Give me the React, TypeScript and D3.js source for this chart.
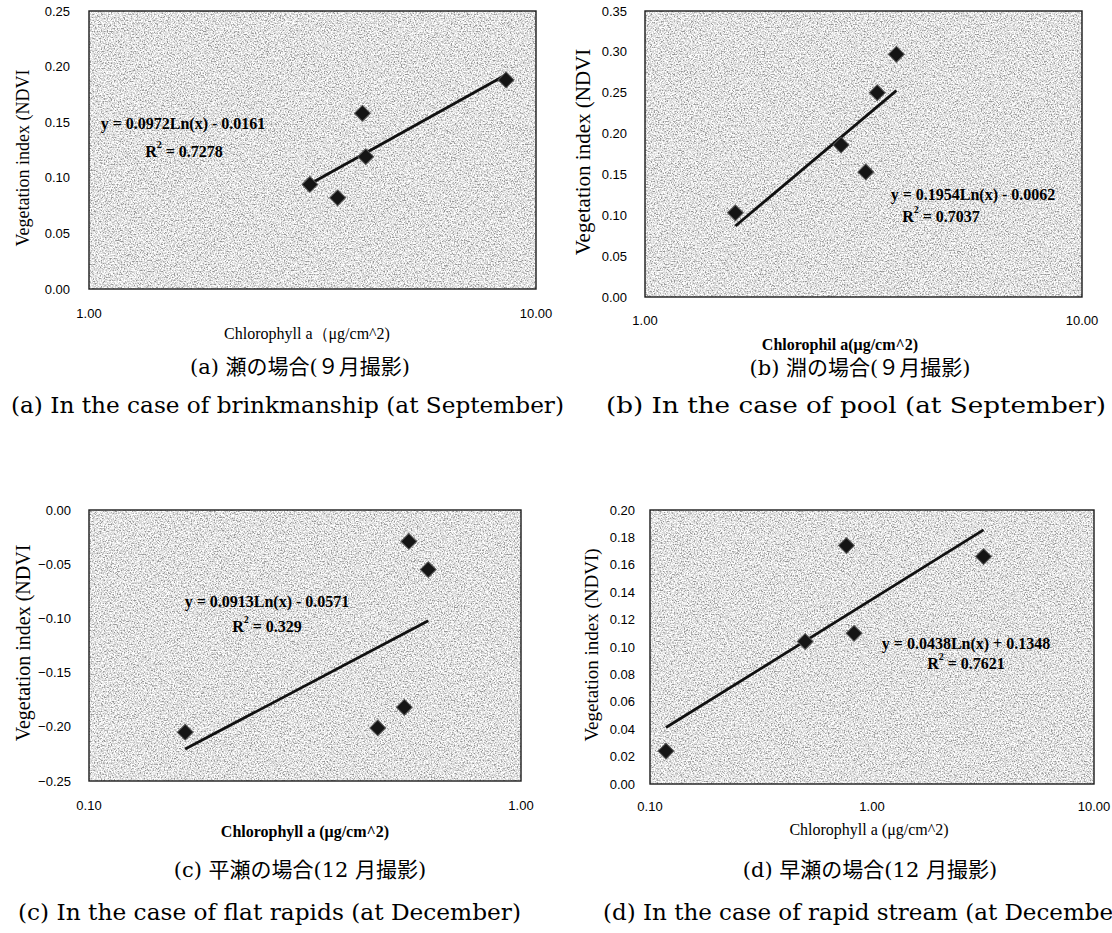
import React, { useEffect, useRef } from "react";
import * as d3 from "d3";

// (a) riffle, September
const chlA = [3.12, 3.6, 4.09, 4.16, 8.57];
const ndviA = [0.094, 0.082, 0.158, 0.119, 0.188];
const fitA = [0.0972, -0.0161];
const eqA = "y = 0.0972Ln(x) - 0.0161";
const r2A = "0.7278";

// (b) pool, September
const chlB = [1.61, 2.81, 3.2, 3.4, 3.76];
const ndviB = [0.103, 0.186, 0.153, 0.25, 0.297];
const fitB = [0.1954, -0.0062];
const eqB = "y = 0.1954Ln(x) - 0.0062";
const r2B = "0.7037";

// (c) flat rapids, December
const chlC = [0.167, 0.466, 0.537, 0.55, 0.61];
const ndviC = [-0.205, -0.201, -0.182, -0.029, -0.055];
const fitC = [0.0913, -0.0571];
const eqC = "y = 0.0913Ln(x) - 0.0571";
const r2C = "0.329";

// (d) rapid stream, December
const chlD = [0.118, 0.5, 0.767, 0.83, 3.18];
const ndviD = [0.024, 0.104, 0.174, 0.11, 0.166];
const fitD = [0.0438, 0.1348];
const eqD = "y = 0.0438Ln(x) + 0.1348";
const r2D = "0.7621";

// axis ticks
const xTicksA = [1, 10];
const xTicksB = [1, 10];
const xTicksC = [0.1, 1];
const xTicksD = [0.1, 1, 10];
const yTicksA = [0, 0.05, 0.1, 0.15, 0.2, 0.25];
const yTicksB = [0, 0.05, 0.1, 0.15, 0.2, 0.25, 0.3, 0.35];
const yTicksC = [-0.25, -0.2, -0.15, -0.1, -0.05, 0];
const yTicksD = [0, 0.02, 0.04, 0.06, 0.08, 0.1, 0.12, 0.14, 0.16, 0.18, 0.2];

// titles
const yTitles = ["Vegetation index (NDVI", "Vegetation index (NDVI", "Vegetation index (NDVI", "Vegetation index (NDVI)"];
const xTitles = ["Chlorophyll a（μg/cm^2)", "Chlorophil a(μg/cm^2)", "Chlorophyll a (μg/cm^2)", "Chlorophyll a (μg/cm^2)"];
const jpCaptions = ["(a) 瀬の場合(９月撮影)", "(b) 淵の場合(９月撮影)", "(c) 平瀬の場合(12 月撮影)", "(d) 早瀬の場合(12 月撮影)"];
const enCaptions = [
  "(a) In the case of brinkmanship (at September)",
  "(b) In the case of pool (at September)",
  "(c) In the case of flat rapids (at December)",
  "(d) In the case of rapid stream (at December)",
];

// layout of each panel on the page
const layouts = [
  { left: 89, right: 536, top: 11, bottom: 289, yLabX: 23, yLabY: 158, yLabSize: 18, yTickRight: 70, xTickY: 313, xTitleX: 307, xTitleY: 333, xTitleBold: false, eqX: 183, eqY: 123, r2X: 184, r2Y: 151 },
  { left: 645, right: 1082, top: 11, bottom: 297, yLabX: 583, yLabY: 152, yLabSize: 21, yTickRight: 627, xTickY: 320, xTitleX: 840, xTitleY: 344, xTitleBold: true, eqX: 973, eqY: 194, r2X: 941, r2Y: 216 },
  { left: 89, right: 521, top: 510, bottom: 781, yLabX: 23, yLabY: 643, yLabSize: 20, yTickRight: 71, xTickY: 805, xTitleX: 305, xTitleY: 831, xTitleBold: true, eqX: 267, eqY: 601, r2X: 267, r2Y: 626 },
  { left: 650, right: 1094, top: 510, bottom: 784, yLabX: 591, yLabY: 645, yLabSize: 19, yTickRight: 635, xTickY: 806, xTitleX: 869, xTitleY: 829, xTitleBold: false, eqX: 966, eqY: 643, r2X: 966, r2Y: 663 },
];
const captionPos = [
  { jpX: 300, jpY: 367, enX: 11, enY: 405, enLen: 553 },
  { jpX: 860, jpY: 368, enX: 606, enY: 405, enLen: 500 },
  { jpX: 300, jpY: 870, enX: 18, enY: 912, enLen: 503 },
  { jpX: 870, jpY: 870, enX: 603, enY: 912, enLen: 530 },
];

const panels = [
  { chl: chlA, ndvi: ndviA, fit: fitA, eq: eqA, r2: r2A, xTicks: xTicksA, yTicks: yTicksA },
  { chl: chlB, ndvi: ndviB, fit: fitB, eq: eqB, r2: r2B, xTicks: xTicksB, yTicks: yTicksB },
  { chl: chlC, ndvi: ndviC, fit: fitC, eq: eqC, r2: r2C, xTicks: xTicksC, yTicks: yTicksC },
  { chl: chlD, ndvi: ndviD, fit: fitD, eq: eqD, r2: r2D, xTicks: xTicksD, yTicks: yTicksD },
];

const SANS = "'Liberation Sans', Arial, sans-serif";
const SERIF = "'Liberation Serif', 'Times New Roman', serif";
const CAPTION = "'DejaVu Serif', 'Noto Sans CJK JP', serif";

const App = () => {
  const svgRef = useRef<SVGSVGElement>(null);

  useEffect(() => {
    const svg = d3.select(svgRef.current);
    svg.selectAll("*").remove();

    svg.append("rect").attr("width", 1112).attr("height", 933).attr("fill", "#ffffff");

    // speckled grey fill of the scanned plot areas
    const f = svg
      .append("defs")
      .append("filter")
      .attr("id", "grain")
      .attr("x", 0)
      .attr("y", 0)
      .attr("width", "100%")
      .attr("height", "100%");
    f.append("feTurbulence")
      .attr("type", "fractalNoise")
      .attr("baseFrequency", 0.7)
      .attr("numOctaves", 3)
      .attr("seed", 7)
      .attr("result", "n");
    f.append("feColorMatrix")
      .attr("in", "n")
      .attr("type", "matrix")
      .attr("values", "0 0 0 0 0.3  0 0 0 0 0.3  0 0 0 0 0.3  -6 0 0 0 2.55")
      .attr("result", "dark");
    f.append("feColorMatrix")
      .attr("in", "n")
      .attr("type", "matrix")
      .attr("values", "0 0 0 0 1  0 0 0 0 1  0 0 0 0 1  5 0 0 0 -2.2")
      .attr("result", "light");
    const m = f.append("feMerge");
    m.append("feMergeNode").attr("in", "dark");
    m.append("feMergeNode").attr("in", "light");

    const fmt = d3.format(".2f");

    panels.forEach((p, i) => {
      const L = layouts[i];
      const x = d3.scaleLog().domain(d3.extent(p.xTicks) as [number, number]).range([L.left, L.right]);
      const y = d3.scaleLinear().domain(d3.extent(p.yTicks) as [number, number]).range([L.bottom, L.top]);
      const g = svg.append("g");
      const w = L.right - L.left;
      const h = L.bottom - L.top;

      g.append("rect").attr("x", L.left).attr("y", L.top).attr("width", w).attr("height", h).attr("fill", "#d4d4d4");
      g.append("rect").attr("x", L.left).attr("y", L.top).attr("width", w).attr("height", h).attr("filter", "url(#grain)");
      g.append("rect")
        .attr("x", L.left)
        .attr("y", L.top)
        .attr("width", w)
        .attr("height", h)
        .attr("fill", "none")
        .attr("stroke", "#1a1a1a")
        .attr("stroke-width", 1.4);

      // y tick labels
      g.selectAll(".yt")
        .data(p.yTicks)
        .enter()
        .append("text")
        .attr("x", L.yTickRight)
        .attr("y", (d) => y(d))
        .attr("text-anchor", "end")
        .attr("dominant-baseline", "central")
        .style("font-family", SANS)
        .style("font-size", "13px")
        .text((d) => fmt(d));

      // x tick labels
      g.selectAll(".xt")
        .data(p.xTicks)
        .enter()
        .append("text")
        .attr("x", (d) => x(d))
        .attr("y", L.xTickY)
        .attr("text-anchor", "middle")
        .attr("dominant-baseline", "central")
        .style("font-family", SANS)
        .style("font-size", "13px")
        .text((d) => fmt(d));

      // trend line over the data range
      const ext = d3.extent(p.chl) as [number, number];
      const pts = ext.map((v) => [x(v), y(p.fit[0] * Math.log(v) + p.fit[1])] as [number, number]);
      g.append("path")
        .attr("d", d3.line()(pts))
        .attr("stroke", "#111")
        .attr("stroke-width", 2.8)
        .attr("fill", "none");

      // diamond markers
      const sym = d3.symbol().type(d3.symbolSquare).size(125);
      g.selectAll(".pt")
        .data(p.chl.map((c, k) => [c, p.ndvi[k]]))
        .enter()
        .append("path")
        .attr("d", sym)
        .attr("transform", (d) => `translate(${x(d[0])},${y(d[1])}) rotate(45)`)
        .attr("fill", "#151515")
        .attr("stroke", "#555")
        .attr("stroke-width", 1);

      // regression equation
      g.append("text")
        .attr("x", L.eqX)
        .attr("y", L.eqY)
        .attr("text-anchor", "middle")
        .attr("dominant-baseline", "central")
        .style("font-family", SERIF)
        .style("font-weight", "bold")
        .style("font-size", "16px")
        .text(p.eq);
      const r = g
        .append("text")
        .attr("x", L.r2X)
        .attr("y", L.r2Y)
        .attr("text-anchor", "middle")
        .attr("dominant-baseline", "central")
        .style("font-family", SERIF)
        .style("font-weight", "bold")
        .style("font-size", "16px");
      r.append("tspan").text("R");
      r.append("tspan").attr("dy", -7).style("font-size", "10px").text("2");
      r.append("tspan").attr("dy", 7).text(` = ${p.r2}`);

      // axis titles
      g.append("text")
        .attr("transform", `translate(${L.yLabX},${L.yLabY}) rotate(-90)`)
        .attr("text-anchor", "middle")
        .attr("dominant-baseline", "central")
        .style("font-family", SERIF)
        .style("font-size", `${L.yLabSize}px`)
        .text(yTitles[i]);
      g.append("text")
        .attr("x", L.xTitleX)
        .attr("y", L.xTitleY)
        .attr("text-anchor", "middle")
        .attr("dominant-baseline", "central")
        .style("font-family", SERIF)
        .style("font-weight", L.xTitleBold ? "bold" : "normal")
        .style("font-size", "16px")
        .text(xTitles[i]);

      // captions
      const c = captionPos[i];
      g.append("text")
        .attr("x", c.jpX)
        .attr("y", c.jpY)
        .attr("text-anchor", "middle")
        .attr("dominant-baseline", "central")
        .style("font-family", CAPTION)
        .style("font-size", "21px")
        .text(jpCaptions[i]);
      g.append("text")
        .attr("x", c.enX)
        .attr("y", c.enY)
        .attr("dominant-baseline", "central")
        .attr("textLength", c.enLen)
        .attr("lengthAdjust", "spacingAndGlyphs")
        .style("font-family", CAPTION)
        .style("font-size", "22px")
        .text(enCaptions[i]);
    });
  }, []);

  return (
    <div style={{ position: "absolute", left: 0, top: 0 }}>
      <svg ref={svgRef} width={1112} height={933} style={{ display: "block" }} />
    </div>
  );
};

export default App;
